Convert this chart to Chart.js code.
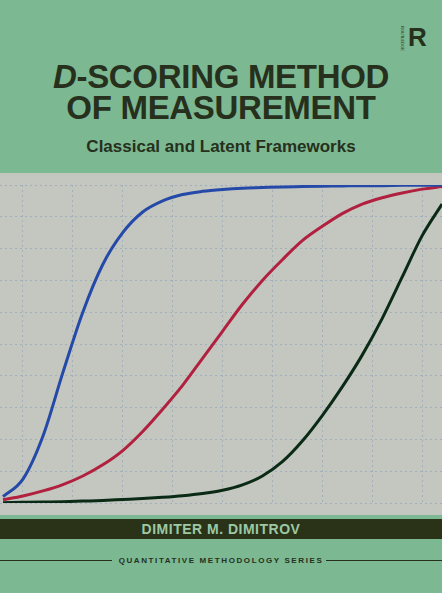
<!DOCTYPE html>
<html><head><meta charset="utf-8">
<script src="https://cdn.jsdelivr.net/npm/chart.js@4/dist/chart.umd.min.js"></script>
<style>
html,body{margin:0;padding:0;}
body{width:442px;height:593px;background:#7cb892;position:relative;overflow:hidden;font-family:"Liberation Sans",Arial,sans-serif;}
#t1,#t2{position:absolute;left:0;width:442px;text-align:center;color:#26301c;font-weight:bold;font-size:33px;letter-spacing:-0.3px;}
#t1{top:58px;} #t2{top:89px;}
#sub{position:absolute;top:137px;left:0;width:442px;text-align:center;color:#26301c;font-weight:bold;font-size:17px;}
#logo{position:absolute;left:398px;top:22px;width:30px;height:32px;}
#chartbox{position:absolute;left:0;top:173px;width:442px;height:342px;background:#c3c7bf;}
#author{position:absolute;left:0;top:519px;width:442px;height:20px;background:#2a3318;color:#9cc8a6;font-size:14px;font-weight:bold;text-align:center;line-height:20px;letter-spacing:0.5px;}
#series{position:absolute;left:0;top:554px;width:442px;height:14px;}
#series .ln{position:absolute;top:6px;height:1px;background:#26301c;}
#series .tx{position:absolute;left:0;width:442px;text-align:center;font-size:8px;font-weight:bold;letter-spacing:1.6px;color:#26301c;line-height:14px;}
</style></head><body>
<div id="logo"><span style="position:absolute;left:2px;top:4px;font-size:4px;writing-mode:vertical-rl;color:#26301c;">ROUTLEDGE</span><span style="position:absolute;left:10px;top:0px;font-size:26px;font-weight:bold;color:#26301c;font-family:'Liberation Sans',sans-serif;line-height:30px;">R</span></div>
<div id="t1"><i>D</i>-SCORING METHOD</div>
<div id="t2">OF MEASUREMENT</div>
<div id="sub">Classical and Latent Frameworks</div>
<div id="chartbox"><canvas id="c" width="442" height="342"></canvas></div>
<div id="author">DIMITER M. DIMITROV</div>
<div id="series"><div class="ln" style="left:0;width:112px"></div><div class="ln" style="left:326px;width:116px"></div><div class="tx">QUANTITATIVE METHODOLOGY SERIES</div></div>
<script>
const theta = [-4.4,-4,-3.6,-3.2,-2.8,-2.4,-2,-1.6,-1.2,-0.8,-0.4,0,0.4,0.8,1.2,1.6,2,2.4,2.8,3.2,3.6,4,4.4];
const blueP  = [0.02,0.075,0.21,0.41,0.60,0.75,0.85,0.915,0.95,0.97,0.98,0.986,0.99,0.992,0.994,0.995,0.996,0.997,0.998,0.998,0.999,0.999,1.0];
const redP   = [0.01,0.022,0.038,0.058,0.085,0.12,0.165,0.225,0.295,0.37,0.455,0.54,0.625,0.70,0.765,0.825,0.87,0.91,0.94,0.96,0.975,0.987,0.995];
const greenP = [0.001,0.002,0.003,0.004,0.006,0.008,0.011,0.014,0.018,0.023,0.03,0.04,0.057,0.085,0.13,0.195,0.275,0.365,0.465,0.58,0.71,0.84,0.94];
const mk = (arr)=>theta.map((x,i)=>({x:x,y:arr[i]}));
const ds = (arr,col)=>({data:mk(arr),borderColor:col,borderWidth:3,pointRadius:0,cubicInterpolationMode:'monotone',fill:false});
new Chart(document.getElementById('c'),{
  type:'line',
  data:{datasets:[ds(blueP,'#2449a8'),ds(redP,'#b1203f'),ds(greenP,'#0a2a16')]},
  options:{responsive:false,animation:false,
    layout:{padding:{top:12,bottom:12,left:0,right:0}},
    plugins:{legend:{display:false},tooltip:{enabled:false}},
    scales:{
      x:{type:'linear',min:-4.46,max:4.4,ticks:{display:false,stepSize:1},border:{display:false,dash:[2,3]},
         grid:{color:'rgba(150,165,185,0.7)',lineWidth:1,drawTicks:false},
         afterBuildTicks:(s)=>{s.ticks=[-4,-3,-2,-1,0,1,2,3,4].map(v=>({value:v}));}},
      y:{min:0,max:1,ticks:{display:false,stepSize:0.1},border:{display:false,dash:[2,3]},
         grid:{color:'rgba(150,165,185,0.7)',lineWidth:1,drawTicks:false}}
    }}
});
</script>
</body></html>
